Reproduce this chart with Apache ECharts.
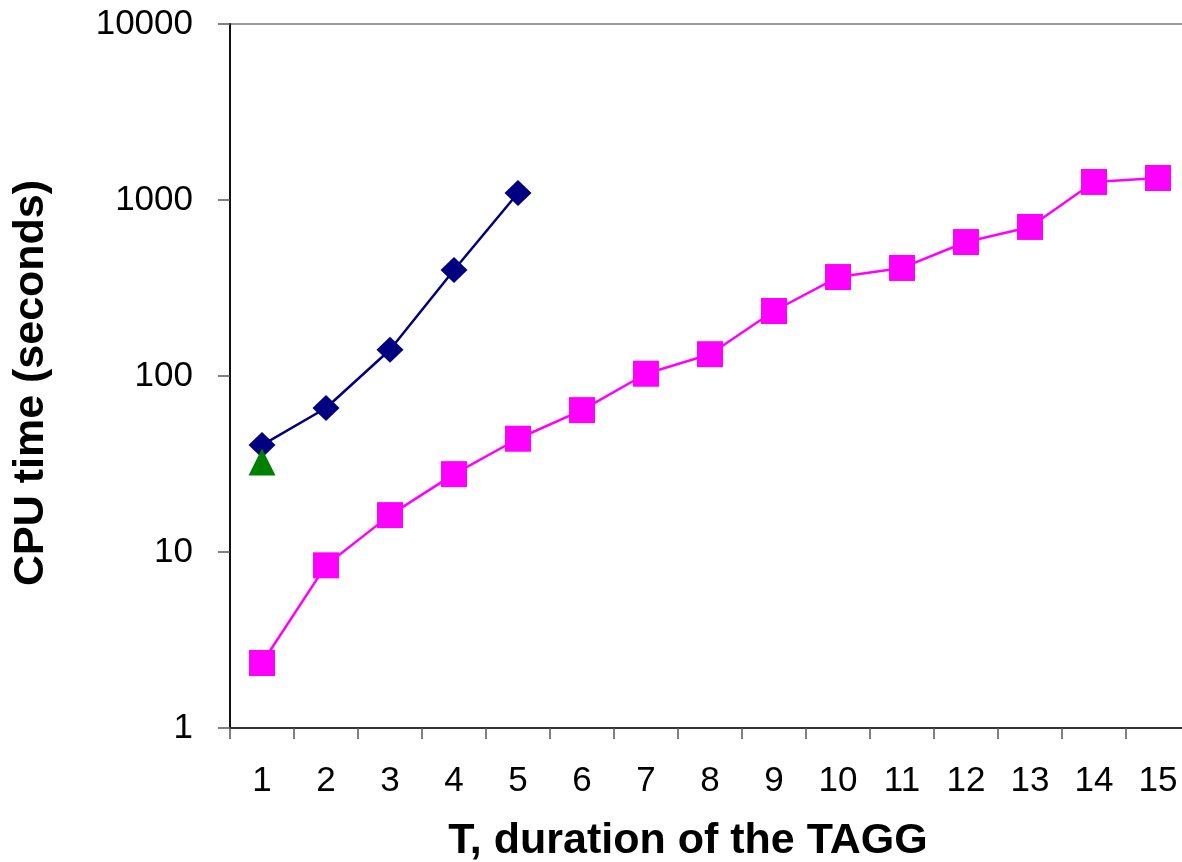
<!DOCTYPE html>
<html><head><meta charset="utf-8">
<script src="https://cdn.jsdelivr.net/npm/echarts@6/dist/echarts.min.js"></script>
<style>html,body{margin:0;padding:0;background:#fff}#c{width:1182px;height:862px}</style>
</head><body><div id="c"></div>
<script>
const categories = ['1','2','3','4','5','6','7','8','9','10','11','12','13','14','15'];
const blueSeries = [40.5, 65.8, 141, 400, 1096];
const pinkSeries = [2.34, 8.4, 16.2, 27.7, 44, 64, 103, 133, 234, 365, 411, 577, 703, 1266, 1334];
const greenSeries = [32.5];
const chart = echarts.init(document.getElementById('c'), null, {renderer:'canvas'});
const font = 'Liberation Sans, Arial, sans-serif';
chart.setOption({
  animation:false,
  backgroundColor:'#fff',
  grid:{left:230, width:960, top:24, height:704, containLabel:false, outerBoundsMode:'none'},
  xAxis:{
    type:'category', data:categories, boundaryGap:true,
    axisLine:{show:true, lineStyle:{color:'#333', width:2}},
    axisTick:{show:true, alignWithLabel:false, length:11, lineStyle:{color:'#555', width:1.5}},
    axisLabel:{fontSize:35, color:'#000', margin:36, fontFamily:font, interval:0},
    name:'T, duration of the TAGG', nameLocation:'middle', nameGap:92,
    nameTextStyle:{fontSize:43, fontWeight:'bold', color:'#000', fontFamily:font, padding:[0,44,0,0]},
    splitLine:{show:false}
  },
  yAxis:{
    type:'log', logBase:10, min:1, max:10000,
    axisLine:{show:true, lineStyle:{color:'#111', width:2}},
    axisTick:{show:true, inside:false, length:12, lineStyle:{color:'#555', width:1.5}},
    axisLabel:{fontSize:35, color:'#000', margin:37, fontFamily:font, formatter:function(v){return String(Math.round(v));}},
    minorTick:{show:false},
    splitLine:{show:true, lineStyle:{color:['transparent','transparent','transparent','transparent','#999'], width:2}},
    name:'CPU time (seconds)', nameLocation:'middle', nameGap:177, nameRotate:90,
    nameTextStyle:{fontSize:43, fontWeight:'bold', color:'#000', fontFamily:font, padding:[0,14,0,0]}
  },
  series:[
    {type:'line', data:pinkSeries, symbol:'rect', symbolSize:26,
     lineStyle:{color:'#FF00FF', width:2.5}, itemStyle:{color:'#FF00FF'}, z:2},
    {type:'line', data:blueSeries, symbol:'diamond', symbolSize:[27,26],
     lineStyle:{color:'#000080', width:2.5}, itemStyle:{color:'#000080'}, z:3},
    {type:'line', data:greenSeries, symbol:'triangle', symbolSize:[27,27],
     lineStyle:{width:0}, itemStyle:{color:'#008000'}, z:4}
  ]
});
</script></body></html>
